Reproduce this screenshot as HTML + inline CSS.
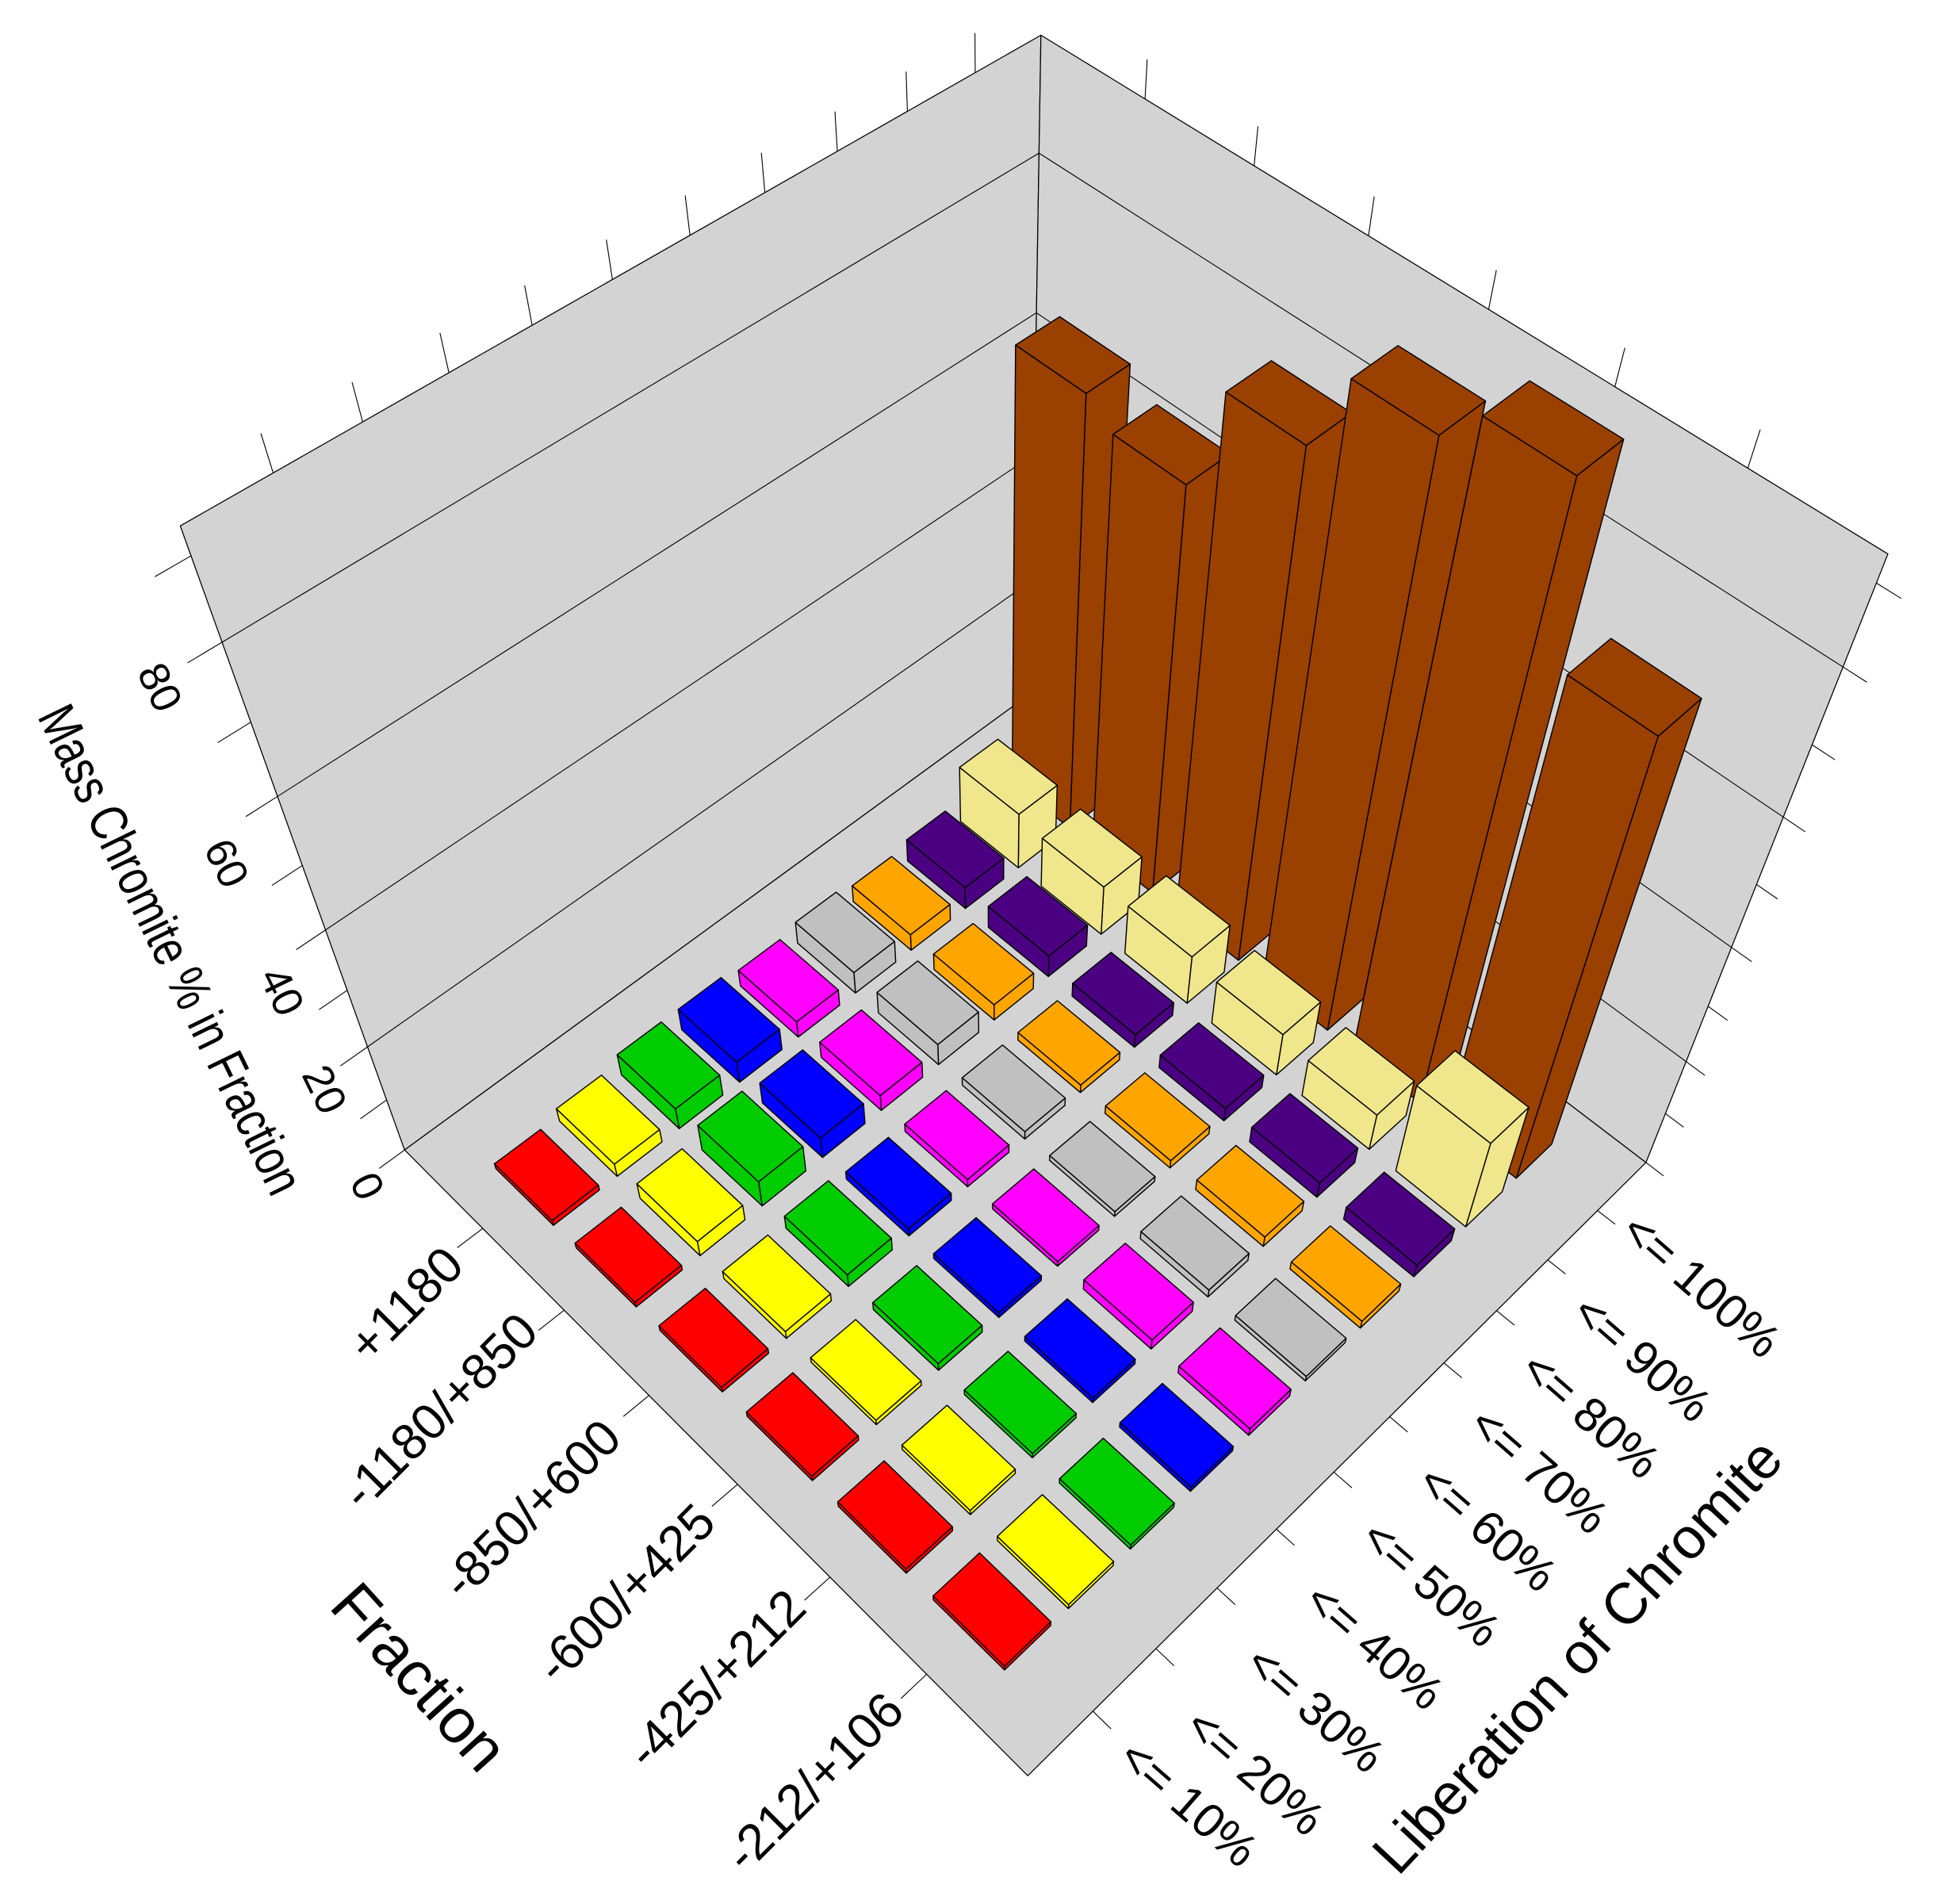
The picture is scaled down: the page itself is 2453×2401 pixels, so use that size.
<!DOCTYPE html>
<html><head><meta charset="utf-8"><style>
html,body{margin:0;padding:0;background:#fff;}
svg{display:block;}
text{font-family:"Liberation Sans",Arial,sans-serif;fill:#000;}
</style></head><body>
<svg id="s" xmlns="http://www.w3.org/2000/svg" width="2453" height="2401" viewBox="0 0 1548 1515" preserveAspectRatio="none">
<rect x="0" y="0" width="1548" height="1515" fill="#fff"/>
<g id="chart"></g>
<g font-size="40">
<text transform="translate(325,1040) rotate(-45)" text-anchor="middle" dominant-baseline="middle">+1180</text>
<text transform="translate(352,1125) rotate(-45)" text-anchor="middle" dominant-baseline="middle">-1180/+850</text>
<text transform="translate(425,1203) rotate(-45)" text-anchor="middle" dominant-baseline="middle">-850/+600</text>
<text transform="translate(500,1270) rotate(-45)" text-anchor="middle" dominant-baseline="middle">-600/+425</text>
<text transform="translate(572,1338) rotate(-45)" text-anchor="middle" dominant-baseline="middle">-425/+212</text>
<text transform="translate(650,1420) rotate(-45)" text-anchor="middle" dominant-baseline="middle">-212/+106</text>
</g>
<text transform="translate(331,1337) rotate(48)" text-anchor="middle" dominant-baseline="middle" font-size="50">Fraction</text>
<g font-size="38">
<text transform="translate(944,1437) rotate(41)" text-anchor="middle" dominant-baseline="middle">&lt;= 10%</text>
<text transform="translate(997,1412) rotate(41)" text-anchor="middle" dominant-baseline="middle">&lt;= 20%</text>
<text transform="translate(1045,1362) rotate(41)" text-anchor="middle" dominant-baseline="middle">&lt;= 30%</text>
<text transform="translate(1092,1312) rotate(41)" text-anchor="middle" dominant-baseline="middle">&lt;= 40%</text>
<text transform="translate(1137,1262) rotate(41)" text-anchor="middle" dominant-baseline="middle">&lt;= 50%</text>
<text transform="translate(1182,1218) rotate(41)" text-anchor="middle" dominant-baseline="middle">&lt;= 60%</text>
<text transform="translate(1223,1172) rotate(41)" text-anchor="middle" dominant-baseline="middle">&lt;= 70%</text>
<text transform="translate(1264,1128) rotate(41)" text-anchor="middle" dominant-baseline="middle">&lt;= 80%</text>
<text transform="translate(1305,1083) rotate(41)" text-anchor="middle" dominant-baseline="middle">&lt;= 90%</text>
<text transform="translate(1352,1025) rotate(41)" text-anchor="middle" dominant-baseline="middle">&lt;= 100%</text>
</g>
<text transform="translate(1258,1320) rotate(-47)" text-anchor="middle" dominant-baseline="middle" font-size="46">Liberation of Chromite</text>
<g font-size="34">
<text transform="translate(125,548) rotate(64)" text-anchor="middle" dominant-baseline="middle">80</text>
<text transform="translate(178,688) rotate(64)" text-anchor="middle" dominant-baseline="middle">60</text>
<text transform="translate(222,790) rotate(64)" text-anchor="middle" dominant-baseline="middle">40</text>
<text transform="translate(256,868) rotate(64)" text-anchor="middle" dominant-baseline="middle">20</text>
<text transform="translate(290,945) rotate(64)" text-anchor="middle" dominant-baseline="middle">0</text>
</g>
<text transform="translate(133,757) rotate(64)" text-anchor="middle" dominant-baseline="middle" font-size="42" textLength="427" lengthAdjust="spacingAndGlyphs">Mass Chromite % in Fraction</text>
</svg>
<script>
(function(){
var NS="http://www.w3.org/2000/svg";
var g=document.getElementById("chart");
var P0=[322,915],P1=[818,1413],P2=[1310,925],P3=[820,552];
var x0=P0[0],y0=P0[1],x1=P1[0],y1=P1[1],x2=P2[0],y2=P2[1],x3=P3[0],y3=P3[1];
var dx1=x1-x2,dx2=x3-x2,dx3=x0-x1+x2-x3,dy1=y1-y2,dy2=y3-y2,dy3=y0-y1+y2-y3;
var det=dx1*dy2-dx2*dy1;
var G=(dx3*dy2-dx2*dy3)/det,H=(dx1*dy3-dx3*dy1)/det;
var A=x1-x0+G*x1,B=x3-x0+H*x3,C=x0,D=y1-y0+G*y1,E=y3-y0+H*y3,F=y0;
var VX=793,VY=2225;
var S=(28*(H+1)-(E+F))/(VY-28);
function pr(u,v,zn){var X=A*u+B*v+C+S*zn*VX,Y=D*u+E*v+F+S*zn*VY,W=G*u+H*v+1+S*zn;return [X/W,Y/W];}
var zn80=(511-F)/(S*(VY-511));
var zMax=80/zn80;
function P(u,v,z){return pr(u,v,z/zMax);}
function poly(pts,fill,sw){var p=document.createElementNS(NS,"polygon");
p.setAttribute("points",pts.map(function(q){return q[0].toFixed(2)+","+q[1].toFixed(2);}).join(" "));
p.setAttribute("fill",fill);p.setAttribute("stroke","#000");p.setAttribute("stroke-width",sw||1);
p.setAttribute("stroke-linejoin","round");g.appendChild(p);}
function line(a,b,w){var l=document.createElementNS(NS,"line");
l.setAttribute("x1",a[0]);l.setAttribute("y1",a[1]);l.setAttribute("x2",b[0]);l.setAttribute("y2",b[1]);
l.setAttribute("stroke","#000");l.setAttribute("stroke-width",w||0.7);g.appendChild(l);}
var wall="#d3d3d3";
poly([pr(0,0,0),pr(0,1,0),pr(0,1,1),pr(0,0,1)],wall,0.8);
poly([pr(0,1,0),pr(1,1,0),pr(1,1,1),pr(0,1,1)],wall,0.8);
poly([pr(0,0,0),pr(1,0,0),pr(1,1,0),pr(0,1,0)],wall,0.8);
for(var z=20;z<=80;z+=20){line(P(0,0,z),P(0,1,z));line(P(0,1,z),P(1,1,z));}
for(var z=0;z<=90;z+=10){if(z/zMax>1)break;line(P(0,0,z),P(0,-0.035,z));line(P(1,1,z),P(1.025,1,z));}
for(var k=1;k<=10;k++){line(pr(0,k/11,1),pr(0,k/11,1.045));}
for(var k=1;k<=6;k++){line(pr(k/7,1,1),pr(k/7,1,1.045));}
for(var k=1;k<=6;k++){line(pr(k/7,0,0),pr(k/7,-0.035,0));}
for(var k=1;k<=10;k++){line(pr(1,k/11,0),pr(1.025,k/11,0));}
var cols=["#ff0000","#ffff00","#00cc00","#0000ff","#ff00ff","#c0c0c0","#ffa500","#4b0082","#f0e68c","#9a4000"];
var Hm=[[1,2.5,4,4,3,4,3,4,10,0],[1,3,5,4,3,4,3,4,9,0],[1,1.5,2.5,1.5,1.5,1.5,1.5,2.5,9,0],
[1,1,1.5,1,1,1,1.5,2.5,8,0],[1,1,1,1,2,1.5,2,3,7,0],[1,1,1,1,1.5,1,1.5,2.5,17,0]];
var brownT=[252,322,287,275,303,508];
var hu=0.36/7,hv=0.36/11;
var bars=[];
for(var i=0;i<6;i++)for(var j=0;j<10;j++){
 var u=(i+1)/7,v=(j+1)/11,u0=u-hu,u1=u+hu,v0=v-hv,v1=v+hv,h;
 if(j==9){var T=brownT[i];var W0=G*u0+H*v1+1,Y0=D*u0+E*v1+F;var zn=(T*W0-Y0)/(S*(VY-T));h=zn*zMax;}
 else h=Hm[i][j];
 bars.push({u0:u0,u1:u1,v0:v0,v1:v1,h:h,c:cols[j],key:P(u,v,0)[1]});
}
bars.sort(function(a,b){return a.key-b.key;});
bars.forEach(function(b){
 poly([P(b.u1,b.v0,0),P(b.u1,b.v1,0),P(b.u1,b.v1,b.h),P(b.u1,b.v0,b.h)],b.c,0.9);
 poly([P(b.u0,b.v0,0),P(b.u1,b.v0,0),P(b.u1,b.v0,b.h),P(b.u0,b.v0,b.h)],b.c,0.9);
 poly([P(b.u0,b.v0,b.h),P(b.u1,b.v0,b.h),P(b.u1,b.v1,b.h),P(b.u0,b.v1,b.h)],b.c,0.9);
});
})();
</script>
</body></html>
